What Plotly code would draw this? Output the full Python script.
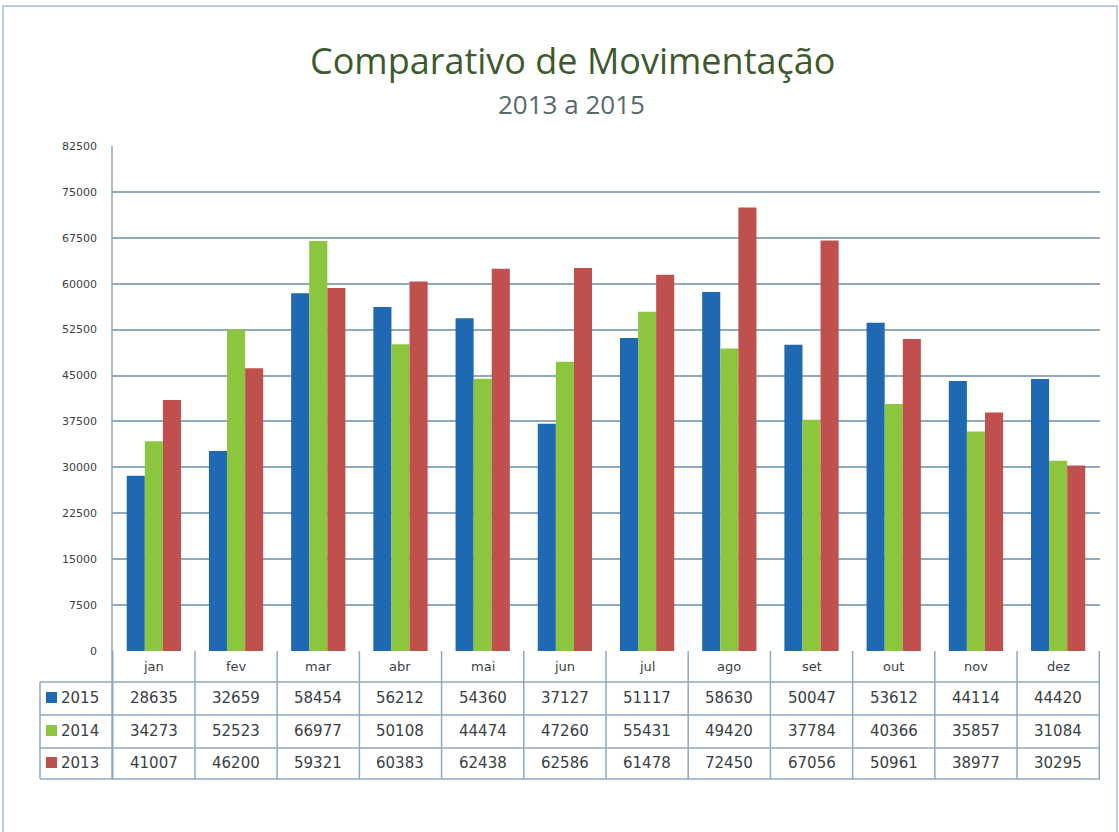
import plotly.graph_objects as go

months = ["jan", "fev", "mar", "abr", "mai", "jun", "jul", "ago", "set", "out", "nov", "dez"]
years = ["2015", "2014", "2013"]
v2015 = [28635, 32659, 58454, 56212, 54360, 37127, 51117, 58630, 50047, 53612, 44114, 44420]
v2014 = [34273, 52523, 66977, 50108, 44474, 47260, 55431, 49420, 37784, 40366, 35857, 31084]
v2013 = [41007, 46200, 59321, 60383, 62438, 62586, 61478, 72450, 67056, 50961, 38977, 30295]
tick_vals = [0, 7500, 15000, 22500, 30000, 37500, 45000, 52500, 60000, 67500, 75000, 82500]
colors = ["#1F68B2", "#8CC63E", "#C0504D"]
series = [v2015, v2014, v2013]

W, H = 1119, 832
L, R, T, B = 112, 1100, 146, 651
pw, ph = R - L, B - T

def px_x(x):
    return (x - L) / pw

def px_y(y):
    return (B - y) / ph

fig = go.Figure()
for yr, vals, c in zip(years, series, colors):
    fig.add_trace(go.Bar(x=months, y=vals, name=yr, marker=dict(color=c, line=dict(width=0))))

grid = "#8FA9BF"
shapes = []
annotations = []

# outer frame
shapes.append(dict(type="rect", xref="paper", yref="paper", x0=px_x(3), x1=px_x(1117),
                   y0=px_y(833), y1=px_y(6), line=dict(color="#A9BACB", width=1.5), layer="below"))

# table
row_lines = [682, 715, 748, 779]
for ry in row_lines:
    shapes.append(dict(type="line", xref="paper", yref="paper", x0=px_x(40), x1=1,
                       y0=px_y(ry), y1=px_y(ry), line=dict(color=grid, width=1.5)))
for i in range(len(months) + 1):
    shapes.append(dict(type="line", xref="x", yref="paper", x0=i - 0.5, x1=i - 0.5,
                       y0=px_y(779), y1=0, line=dict(color=grid, width=1.5)))
shapes.append(dict(type="line", xref="paper", yref="paper", x0=px_x(40), x1=px_x(40),
                   y0=px_y(779), y1=px_y(682), line=dict(color=grid, width=1.5)))
shapes.append(dict(type="line", xref="paper", yref="paper", x0=0, x1=0,
                   y0=px_y(779), y1=1, line=dict(color=grid, width=1.5)))

row_centers = [698, 731, 763]
tfont = dict(family="DejaVu Sans", size=15, color="#3A3F44")
for m_i, m in enumerate(months):
    annotations.append(dict(x=m, y=px_y(666), xref="x", yref="paper", text=m, showarrow=False,
                            xanchor="center", yanchor="middle",
                            font=dict(family="DejaVu Sans", size=13, color="#3A3F44")))
    for r, vals in enumerate(series):
        annotations.append(dict(x=m, y=px_y(row_centers[r]), xref="x", yref="paper",
                                text=str(vals[m_i]), showarrow=False,
                                xanchor="center", yanchor="middle", font=tfont))

for r, (yr, c) in enumerate(zip(years, colors)):
    cy = row_centers[r]
    shapes.append(dict(type="rect", xref="paper", yref="paper", x0=px_x(46), x1=px_x(57),
                       y0=px_y(cy + 5), y1=px_y(cy - 6), fillcolor=c, line=dict(width=0)))
    annotations.append(dict(x=px_x(59), y=px_y(cy), xref="paper", yref="paper", text=yr,
                            showarrow=False, xanchor="left", yanchor="middle", font=tfont))

annotations.append(dict(x=px_x(572), y=px_y(60), xref="paper", yref="paper",
                        text="Comparativo de Movimentação", showarrow=False,
                        xanchor="center", yanchor="middle",
                        font=dict(family="Open Sans", size=36, color="#3D5A2E")))
annotations.append(dict(x=px_x(571), y=px_y(104), xref="paper", yref="paper",
                        text="2013 a 2015", showarrow=False,
                        xanchor="center", yanchor="middle",
                        font=dict(family="Open Sans", size=26, color="#55696A")))

fig.update_layout(
    width=W, height=H,
    margin=dict(l=L, r=W - R, t=T, b=H - B, pad=0),
    paper_bgcolor="white", plot_bgcolor="white",
    barmode="group", bargap=0.34, bargroupgap=0,
    showlegend=False,
    shapes=shapes, annotations=annotations,
    xaxis=dict(showticklabels=False, showgrid=False, zeroline=False, showline=False, ticks=""),
    yaxis=dict(range=[0, 82500], tickvals=tick_vals, tickformat="d",
               showgrid=True, gridcolor=grid, gridwidth=1.5,
               zeroline=False, showline=False, ticks="",
               tickfont=dict(family="DejaVu Sans", size=11, color="#3A3F44"),
               ticklabelstandoff=14),
)

fig.write_html("out.html", config={"displayModeBar": False},
               post_script="document.body.style.margin='0';document.body.style.overflow='hidden';")
